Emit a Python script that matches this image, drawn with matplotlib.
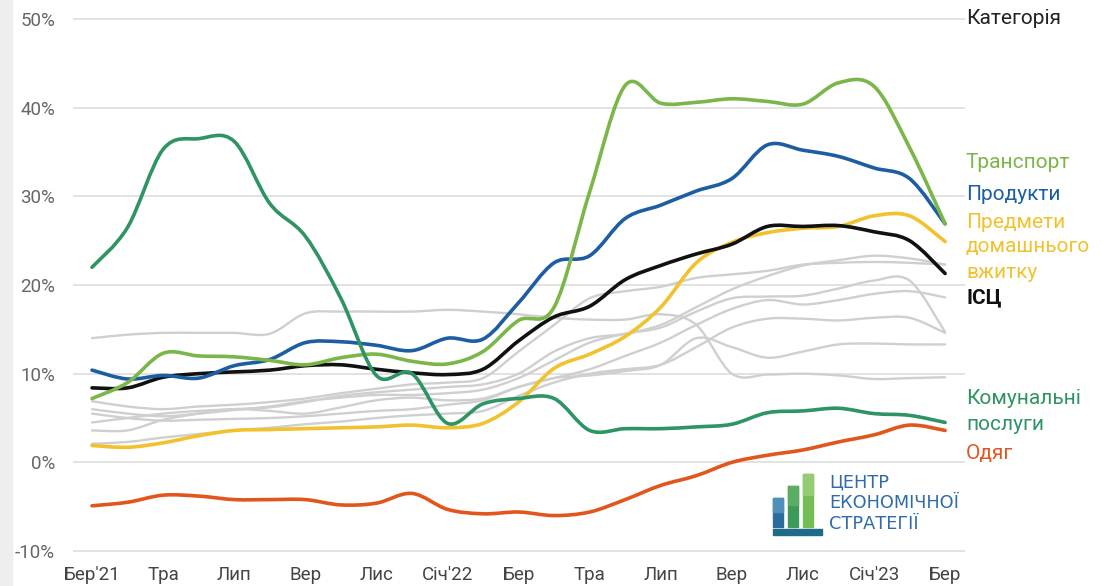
import matplotlib.pyplot as plt
import numpy as np
from matplotlib.path import Path
from matplotlib.patches import PathPatch, Rectangle

plt.rcParams['font.family'] = ['Roboto', 'DejaVu Sans']

# ==========================================
# ДАНІ: інфляція за категоріями, р/р, %
# березень 2021 - березень 2023, щомісяця
# ==========================================
months = np.arange(25)
tick_pos = np.arange(0, 25, 2)
tick_labels = ["Бер'21", 'Тра', 'Лип', 'Вер', 'Лис', "Січ'22",
               'Бер', 'Тра', 'Лип', 'Вер', 'Лис', "Січ'23", 'Бер']
y_ticks = [-10, 0, 10, 20, 30, 40, 50]

transport = [7.2, 9.0, 12.3, 12.0, 11.9, 11.5, 11.0, 11.8, 12.2, 11.4, 11.1, 12.5,
             16.0, 17.5, 30.5, 42.5, 40.5, 40.6, 41.0, 40.7, 40.4, 42.8, 42.4, 35.5, 26.9]
products = [10.4, 9.4, 9.8, 9.5, 10.9, 11.6, 13.5, 13.6, 13.2, 12.6, 14.0, 13.9,
            18.0, 22.5, 23.3, 27.5, 29.0, 30.6, 32.0, 35.8, 35.2, 34.5, 33.2, 32.0, 26.9]
household = [1.9, 1.7, 2.2, 3.0, 3.6, 3.7, 3.8, 3.9, 4.0, 4.2, 3.9, 4.4,
             6.8, 10.6, 12.2, 14.2, 17.5, 22.5, 24.8, 25.9, 26.4, 26.6, 27.8, 27.8, 24.9]
cpi = [8.4, 8.4, 9.6, 10.0, 10.2, 10.4, 10.9, 11.0, 10.5, 10.1, 9.9, 10.5,
       13.7, 16.4, 17.6, 20.6, 22.2, 23.5, 24.6, 26.6, 26.6, 26.7, 26.0, 25.0, 21.3]
utilities = [22.0, 26.5, 35.3, 36.5, 36.2, 29.2, 25.5, 18.5, 9.8, 10.0, 4.4, 6.6,
             7.2, 7.2, 3.6, 3.8, 3.8, 4.0, 4.3, 5.6, 5.8, 6.1, 5.5, 5.3, 4.5]
clothing = [-4.9, -4.5, -3.7, -3.8, -4.2, -4.2, -4.2, -4.8, -4.6, -3.5, -5.3, -5.8,
            -5.6, -6.0, -5.6, -4.2, -2.6, -1.5, 0.0, 0.8, 1.4, 2.3, 3.1, 4.2, 3.6]

# інші категорії (сірі лінії)
other_1 = [14.0, 14.4, 14.6, 14.6, 14.6, 14.5, 16.8, 17.0, 17.0, 17.0, 17.2, 17.0,
           16.7, 16.3, 16.1, 16.1, 16.7, 15.5, 10.0, 9.9, 10.0, 9.8, 9.4, 9.5, 9.6]
other_2 = [6.9, 6.3, 6.0, 6.3, 6.5, 6.8, 7.2, 7.8, 8.3, 8.8, 9.0, 9.5,
           12.5, 15.5, 18.5, 19.3, 19.8, 20.8, 21.2, 21.6, 22.3, 22.5, 22.6, 22.5, 22.3]
other_3 = [4.5, 5.0, 5.5, 5.8, 6.0, 6.2, 6.8, 7.5, 7.9, 8.2, 8.5, 8.8,
           10.0, 12.5, 14.0, 14.5, 15.5, 17.5, 19.5, 21.0, 22.2, 22.8, 23.3, 23.0, 22.3]
other_4 = [6.0, 5.5, 5.2, 5.5, 5.9, 6.3, 6.9, 7.3, 7.6, 7.6, 7.8, 8.2,
           9.5, 11.5, 13.5, 14.5, 15.2, 17.0, 18.5, 18.7, 18.8, 19.6, 20.5, 20.5, 14.7]
other_5 = [3.6, 3.6, 4.8, 5.5, 6.0, 5.8, 5.5, 6.2, 7.0, 7.3, 7.0, 7.2,
           8.5, 9.5, 10.5, 12.0, 13.5, 15.5, 17.3, 18.3, 17.8, 18.3, 19.0, 19.3, 18.6]
other_6 = [2.1, 2.3, 2.8, 3.2, 3.6, 3.9, 4.3, 4.6, 5.0, 5.3, 5.5, 5.8,
           7.5, 9.0, 10.0, 10.5, 11.0, 13.0, 15.2, 16.2, 16.2, 16.0, 16.3, 16.3, 14.6]
other_7 = [5.5, 5.0, 4.7, 4.8, 4.9, 5.0, 5.2, 5.5, 5.8, 6.0, 6.5, 7.0,
           8.5, 9.5, 9.8, 10.3, 11.0, 14.0, 13.0, 11.8, 12.5, 13.3, 13.4, 13.3, 13.3]
others = [other_1, other_2, other_3, other_4, other_5, other_6, other_7]


def smooth_path(x, y):
    # згладжена крива (Catmull-Rom -> Безьє) через точки даних
    pts = np.column_stack([np.asarray(x, float), np.asarray(y, float)])
    n = len(pts)
    verts = [pts[0]]
    codes = [Path.MOVETO]
    for i in range(n - 1):
        p0 = pts[max(i - 1, 0)]
        p1 = pts[i]
        p2 = pts[i + 1]
        p3 = pts[min(i + 2, n - 1)]
        verts += [p1 + (p2 - p0) / 6, p2 - (p3 - p1) / 6, p2]
        codes += [Path.CURVE4] * 3
    return Path(verts, codes)


def draw_line(ax, y, color, lw, z):
    patch = PathPatch(smooth_path(months, y), fill=False, edgecolor=color,
                      lw=lw, capstyle='round', joinstyle='round', zorder=z)
    ax.add_patch(patch)


W, H = 1104, 586
fig = plt.figure(figsize=(W / 100, H / 100), dpi=100)
fig.patch.set_facecolor('white')

# осі в пікселях: x 73..965, y 16..554
ax = fig.add_axes([73 / W, 1 - 553.7 / H, (965 - 73) / W, (553.7 - 16.3) / H])
ax.set_xlim(-0.535, 24.56)
ax.set_ylim(-10.3, 50.3)
for s in ax.spines.values():
    s.set_visible(False)

ax.set_yticks(y_ticks)
ax.set_yticklabels([f'{v}%' for v in y_ticks])
ax.set_xticks(tick_pos)
ax.set_xticklabels(tick_labels)
ax.tick_params(axis='y', length=0, pad=13, labelsize=13.5, labelcolor='#666666')
ax.tick_params(axis='x', length=0, pad=9, labelsize=13.5, labelcolor='#444444')
ax.grid(axis='y', color='#dddddd', lw=1.2)
ax.set_axisbelow(True)

for y in others:
    draw_line(ax, y, '#cfcfcf', 1.7, 2)
draw_line(ax, clothing, '#e2561d', 2.6, 3)
draw_line(ax, household, '#f2c12e', 2.6, 4)
draw_line(ax, cpi, '#111111', 2.6, 5)
draw_line(ax, products, '#1d5ea3', 2.6, 6)
draw_line(ax, transport, '#7ab648', 2.6, 7)
draw_line(ax, utilities, '#2e9463', 2.6, 8)

# підписи праворуч
def rtext(y, s, color, bold=False):
    fig.text(966 / W, 1 - y / H, s, color=color, fontsize=15, va='center', ha='left',
             fontweight='bold' if bold else 'normal')

rtext(18, 'Категорія', '#222222')
rtext(163, 'Транспорт', '#7ab648')
rtext(195, 'Продукти', '#1d5ea3')
rtext(222, 'Предмети', '#f2c12e')
rtext(247, 'домашнього', '#f2c12e')
rtext(272, 'вжитку', '#f2c12e')
rtext(298, 'ІСЦ', '#111111', bold=True)
rtext(399, 'Комунальні', '#2e9463')
rtext(425, 'послуги', '#2e9463')
rtext(453, 'Одяг', '#e2561d')

# сіра смуга зліва
fig.patches.append(Rectangle((0, 0), 12 / W, 1, transform=fig.transFigure,
                             color='#eeeeee', zorder=0))

# логотип
def frect(x0, y0, x1, y1, c):
    fig.patches.append(Rectangle((x0 / W, 1 - y1 / H), (x1 - x0) / W, (y1 - y0) / H,
                                 transform=fig.transFigure, color=c, zorder=10))

frect(773, 498, 783, 527, '#2b6c9c')
frect(773, 498, 783, 512, '#4f8fb8')
frect(788, 486, 798, 527, '#3d9a58')
frect(788, 486, 798, 505, '#5aae64')
frect(803, 474, 813, 527, '#74bd52')
frect(803, 474, 813, 495, '#93cc72')
frect(773, 529, 822, 535, '#1f6a86')
for y, s in [(482, 'ЦЕНТР'), (503, 'ЕКОНОМІЧНОЇ'), (524, 'СТРАТЕГІЇ')]:
    fig.text(829 / W, 1 - y / H, s, color='#2f6ba8', fontsize=12.8, va='center',
             ha='left', family=['DejaVu Sans'], zorder=10)

fig.savefig('out.png', dpi=100, facecolor='white')
